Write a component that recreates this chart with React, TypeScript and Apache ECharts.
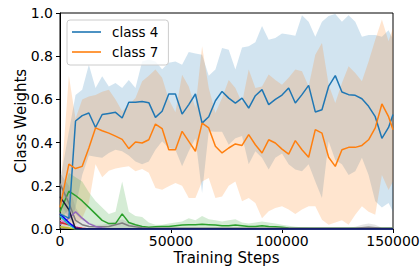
import React, { useEffect, useRef } from "react";
import * as echarts from "echarts";

// Training steps (x values)
const steps = [0, 4000, 7000, 10000, 13000, 16000, 19000, 22000, 25000, 28000, 31000, 34000, 37000, 40000, 43000, 46000, 49000, 52000, 55000, 58000, 61000, 64000, 67000, 70000, 73000, 76000, 79000, 82000, 85000, 88000, 91000, 94000, 97000, 100000, 103000, 106000, 109000, 112000, 115000, 118000, 121000, 124000, 127000, 130000, 133000, 136000, 139000, 142000, 145000, 148000, 150000];

const class4Mean = [0.07, 0.05, 0.50, 0.525, 0.537, 0.47, 0.53, 0.535, 0.54, 0.514,
  0.587, 0.587, 0.59, 0.585, 0.517, 0.545, 0.625, 0.625, 0.532, 0.576,
  0.625, 0.49, 0.52, 0.594, 0.637, 0.606, 0.583, 0.606, 0.56, 0.617,
  0.645, 0.576, 0.60, 0.62, 0.653, 0.583, 0.622, 0.665, 0.542, 0.552,
  0.66, 0.71, 0.634, 0.622, 0.619, 0.603, 0.568, 0.52, 0.42, 0.47, 0.53];
const class4Upper = [0.22, 0.45, 0.62, 0.645, 0.76, 0.653, 0.707, 0.66, 0.676, 0.653,
  0.69, 0.653, 0.775, 0.785, 0.775, 0.74, 0.77, 0.776, 0.76, 0.82,
  0.812, 0.807, 0.71, 0.738, 0.838, 0.83, 0.738, 0.84, 0.846, 0.865,
  0.94, 0.876, 0.884, 0.905, 0.90, 0.895, 0.99, 0.96, 0.89, 0.96,
  0.986, 0.995, 0.96, 0.99, 0.96, 0.89, 0.898, 0.898, 0.89, 0.92, 0.88];
const class4Lower = [0.0, 0.0, 0.10, 0.25, 0.34, 0.335, 0.33, 0.352, 0.367, 0.36,
  0.34, 0.313, 0.30, 0.313, 0.367, 0.406, 0.375, 0.367, 0.29, 0.36,
  0.42, 0.167, 0.452, 0.45, 0.45, 0.39, 0.42, 0.43, 0.30, 0.36,
  0.33, 0.275, 0.33, 0.35, 0.30, 0.275, 0.267, 0.30, 0.22, 0.144,
  0.406, 0.32, 0.30, 0.25, 0.267, 0.33, 0.25, 0.128, 0.10, 0.12, 0.08];

const class7Mean = [0.10, 0.30, 0.28, 0.29, 0.375, 0.468, 0.455, 0.444, 0.43, 0.415,
  0.372, 0.403, 0.398, 0.413, 0.486, 0.465, 0.367, 0.367, 0.452, 0.406,
  0.36, 0.49, 0.468, 0.383, 0.352, 0.375, 0.394, 0.387, 0.437, 0.39,
  0.352, 0.413, 0.398, 0.37, 0.347, 0.409, 0.367, 0.332, 0.46, 0.444,
  0.332, 0.29, 0.367, 0.378, 0.378, 0.387, 0.413, 0.468, 0.579, 0.52, 0.46];
const class7Upper = [0.15, 0.71, 0.51, 0.60, 0.614, 0.62, 0.635, 0.645, 0.60, 0.545,
  0.575, 0.606, 0.684, 0.71, 0.738, 0.70, 0.60, 0.54, 0.714, 0.66,
  0.56, 0.846, 0.653, 0.537, 0.606, 0.69, 0.653, 0.583, 0.738, 0.653,
  0.66, 0.715, 0.69, 0.668, 0.70, 0.738, 0.73, 0.66, 0.807, 0.861,
  0.668, 0.583, 0.676, 0.753, 0.722, 0.684, 0.776, 0.876, 0.97, 0.869, 0.93];
const class7Lower = [0.0, 0.0, 0.02, 0.05, 0.12, 0.30, 0.24, 0.27, 0.28, 0.286,
  0.29, 0.267, 0.278, 0.26, 0.19, 0.182, 0.198, 0.213, 0.20, 0.144,
  0.144, 0.22, 0.236, 0.144, 0.15, 0.20, 0.22, 0.128, 0.144, 0.12,
  0.05, 0.082, 0.097, 0.105, 0.09, 0.07, 0.09, 0.105, 0.105, 0.043,
  0.02, 0.03, 0.04, 0.02, 0.066, 0.105, 0.08, 0.066, 0.25, 0.18, 0.22];

const class2Mean = [0.08, 0.175, 0.155, 0.13, 0.10, 0.07, 0.04, 0.025, 0.025, 0.07,
  0.03, 0.02, 0.012, 0.008, 0.01, 0.012, 0.012, 0.015, 0.018, 0.02,
  0.02, 0.022, 0.02, 0.018, 0.015, 0.015, 0.018, 0.015, 0.012, 0.012,
  0.015, 0.012, 0.01, 0.008, 0.005, 0.004, 0.003, 0.003, 0.003, 0.003,
  0.003, 0.003, 0.003, 0.003, 0.003, 0.003, 0.003, 0.003, 0.003, 0.003, 0.003];
const class2Upper = [0.12, 0.26, 0.24, 0.22, 0.17, 0.13, 0.10, 0.07, 0.08, 0.22,
  0.08, 0.06, 0.055, 0.03, 0.02, 0.02, 0.025, 0.03, 0.035, 0.05,
  0.04, 0.06, 0.045, 0.04, 0.035, 0.04, 0.045, 0.03, 0.025, 0.03,
  0.035, 0.03, 0.025, 0.02, 0.015, 0.01, 0.008, 0.006, 0.005, 0.005,
  0.005, 0.005, 0.005, 0.005, 0.005, 0.005, 0.005, 0.005, 0.005, 0.005, 0.005];
const class2Lower = [0.04, 0.09, 0.07, 0.04, 0.03, 0.01, 0, 0, 0, 0,
  0, 0, 0, 0, 0, 0, 0, 0, 0, 0,
  0, 0, 0, 0, 0, 0, 0, 0, 0, 0,
  0, 0, 0, 0, 0, 0, 0, 0, 0, 0,
  0, 0, 0, 0, 0, 0, 0, 0, 0, 0, 0];
const class8Mean = [0.21, 0.12, 0.04, 0.02, 0.012, 0.01, 0.01, 0.012, 0.02, 0.028,
  0.015, 0.01, 0.006, 0.004, 0.003, 0.003, 0.003, 0.003, 0.003, 0.003,
  0.003, 0.003, 0.003, 0.003, 0.003, 0.003, 0.003, 0.003, 0.003, 0.003,
  0.003, 0.003, 0.003, 0.003, 0.003, 0.003, 0.003, 0.003, 0.003, 0.003,
  0.003, 0.003, 0.003, 0.003, 0.003, 0.006, 0.008, 0.006, 0.003, 0.003, 0.003];
const class8Upper = [0.26, 0.20, 0.10, 0.05, 0.03, 0.02, 0.02, 0.025, 0.035, 0.045,
  0.03, 0.02, 0.012, 0.008, 0.006, 0.006, 0.006, 0.006, 0.006, 0.006,
  0.006, 0.006, 0.006, 0.006, 0.006, 0.006, 0.006, 0.006, 0.006, 0.006,
  0.006, 0.006, 0.006, 0.006, 0.006, 0.006, 0.006, 0.006, 0.006, 0.006,
  0.006, 0.006, 0.006, 0.006, 0.01, 0.02, 0.025, 0.02, 0.006, 0.006, 0.006];
const class8Lower = [0.12, 0.05, 0, 0, 0, 0, 0, 0, 0, 0,
  0, 0, 0, 0, 0, 0, 0, 0, 0, 0,
  0, 0, 0, 0, 0, 0, 0, 0, 0, 0,
  0, 0, 0, 0, 0, 0, 0, 0, 0, 0,
  0, 0, 0, 0, 0, 0, 0, 0, 0, 0, 0];
const class5Mean = [0.02, 0.05, 0.08, 0.05, 0.025, 0.012, 0.005, 0, 0, 0,
  0, 0, 0, 0, 0, 0, 0, 0, 0, 0,
  0, 0, 0, 0, 0, 0, 0, 0, 0, 0,
  0, 0, 0, 0, 0, 0, 0, 0, 0, 0,
  0, 0, 0, 0, 0, 0, 0, 0, 0, 0, 0];
const class0Mean = [0.07, 0.03, 0.005, 0, 0, 0, 0, 0, 0, 0,
  0, 0, 0, 0, 0, 0, 0, 0, 0, 0,
  0, 0, 0, 0, 0, 0, 0, 0, 0, 0,
  0, 0, 0, 0, 0, 0, 0, 0, 0, 0,
  0, 0, 0, 0, 0, 0, 0, 0, 0, 0, 0];
const class1Mean = [0.06, 0.02, 0, 0, 0, 0, 0, 0, 0, 0,
  0, 0, 0, 0, 0, 0, 0, 0, 0, 0,
  0, 0, 0, 0, 0, 0, 0, 0, 0, 0,
  0, 0, 0, 0, 0, 0, 0, 0, 0, 0,
  0, 0, 0, 0, 0, 0, 0, 0, 0, 0, 0];
const class3Mean = [0.04, 0.025, 0.01, 0, 0, 0, 0, 0, 0, 0,
  0, 0, 0, 0, 0, 0, 0, 0, 0, 0,
  0, 0, 0, 0, 0, 0, 0, 0, 0, 0,
  0, 0, 0, 0, 0, 0, 0, 0, 0, 0,
  0, 0, 0, 0, 0, 0, 0, 0, 0, 0, 0];
const class6Mean = [0.03, 0.02, 0.008, 0.003, 0, 0, 0, 0, 0, 0,
  0, 0, 0, 0, 0, 0, 0, 0, 0, 0,
  0, 0, 0, 0, 0, 0, 0, 0, 0, 0,
  0, 0, 0, 0, 0, 0, 0, 0, 0, 0,
  0, 0, 0, 0, 0, 0, 0, 0, 0, 0, 0];
const class9Mean = [0.01, 0.005, 0, 0, 0, 0, 0, 0, 0, 0,
  0, 0, 0, 0, 0, 0, 0, 0, 0, 0,
  0, 0, 0, 0, 0, 0, 0, 0, 0, 0,
  0, 0, 0, 0, 0, 0, 0, 0, 0, 0,
  0, 0, 0, 0, 0, 0, 0, 0, 0, 0, 0];
const class10Mean = [0.15, 0.09, 0, 0, 0, 0, 0, 0, 0, 0,
  0, 0, 0, 0, 0, 0, 0, 0, 0, 0,
  0, 0, 0, 0, 0, 0, 0, 0, 0, 0,
  0, 0, 0, 0, 0, 0, 0, 0, 0, 0,
  0, 0, 0, 0, 0, 0, 0, 0, 0, 0, 0];

const yTicks = [0, 0.2, 0.4, 0.6, 0.8, 1.0];
const xTicks = [0, 50000, 100000, 150000];

const FONT = "DejaVu Sans";

function bandSeries(name: string, upper: number[], lower: number[], fill: string) {
  return {
    type: "custom",
    name,
    coordinateSystem: "cartesian2d",
    silent: true,
    data: [[steps[0], lower[0]]],
    encode: { x: 0, y: 1 },
    renderItem: (params: any, api: any) => {
      const top = upper.map((u, i) => api.coord([steps[i], u]));
      const bot = lower.map((l, i) => api.coord([steps[i], l])).reverse();
      return {
        type: "polygon",
        shape: { points: top.concat(bot) },
        style: { fill, stroke: "none" },
      };
    },
  };
}

function lineSeries(name: string, values: number[], color: string, z = 3) {
  return {
    type: "line",
    name,
    data: values.map((v, i) => [steps[i], v]),
    symbol: "none",
    showSymbol: false,
    z,
    lineStyle: { color, width: 1.5 },
    itemStyle: { color },
  };
}

export default function App() {
  const ref = useRef<HTMLDivElement>(null);
  useEffect(() => {
    document.body.style.margin = "0";
    if (!ref.current) return;
    const chart = echarts.init(ref.current, undefined, { renderer: "svg" });
    const option = {
      animation: false,
      textStyle: { fontFamily: FONT },
      grid: {
        left: 60, top: 13, width: 333, height: 216,
        outerBoundsMode: "none", containLabel: false,
        show: true, borderColor: "#000", borderWidth: 1, backgroundColor: "transparent",
      },
      xAxis: {
        type: "value", min: xTicks[0], max: xTicks[xTicks.length - 1], interval: xTicks[1] - xTicks[0],
        name: "Training Steps", nameLocation: "middle", nameGap: 21, nameMoveOverlap: false,
        nameTextStyle: { fontSize: 15, color: "#000", fontFamily: FONT },
        axisLine: { show: true, lineStyle: { color: "#000", width: 1 } },
        axisTick: { show: true, length: 4, inside: false, lineStyle: { color: "#000" } },
        axisLabel: { fontSize: 14, color: "#000", margin: 5, fontFamily: FONT, formatter: (v: number) => String(v) },
        splitLine: { show: false },
      },
      yAxis: {
        type: "value", min: yTicks[0], max: yTicks[yTicks.length - 1], interval: 0.2,
        name: "Class Weights", nameLocation: "middle", nameGap: 32, nameMoveOverlap: false,
        nameTextStyle: { fontSize: 15, color: "#000", fontFamily: FONT },
        axisLine: { show: true, lineStyle: { color: "#000", width: 1 } },
        axisTick: { show: true, length: 4, inside: false, lineStyle: { color: "#000" } },
        axisLabel: { fontSize: 14, color: "#000", margin: 7, fontFamily: FONT, formatter: (v: number) => v.toFixed(1) },
        splitLine: { show: false },
      },
      legend: {
        data: [
          { name: "class 4", icon: "rect" },
          { name: "class 7", icon: "rect" },
        ],
        orient: "vertical", left: 67, top: 20,
        padding: [4, 10, 5, 5], itemGap: 4,
        itemWidth: 29, itemHeight: 1.6,
        backgroundColor: "rgba(255,255,255,0.8)", borderColor: "#cccccc", borderWidth: 1, borderRadius: 3,
        textStyle: { fontSize: 13.5, color: "#000", fontFamily: FONT, lineHeight: 16, padding: [0, 0, 0, 6] },
        selectedMode: false,
      },
      series: [
        bandSeries("class 4 band", class4Upper, class4Lower, "rgba(31,119,180,0.2)"),
        bandSeries("class 7 band", class7Upper, class7Lower, "rgba(255,127,14,0.2)"),
        bandSeries("class 2 band", class2Upper, class2Lower, "rgba(44,160,44,0.2)"),
        bandSeries("class 8 band", class8Upper, class8Lower, "rgba(127,127,127,0.2)"),
        lineSeries("class 4", class4Mean, "#1f77b4", 4),
        lineSeries("class 7", class7Mean, "#ff7f0e", 4),
        lineSeries("class 2", class2Mean, "#2ca02c"),
        lineSeries("class 8", class8Mean, "#7f7f7f"),
        lineSeries("class 5", class5Mean, "#9467bd"),
        lineSeries("class 3", class3Mean, "#e377c2"),
        lineSeries("class 6", class6Mean, "#d62728"),
        lineSeries("class 9", class9Mean, "#bcbd22"),
        lineSeries("class 1", class1Mean, "#17becf"),
        lineSeries("class 0", class0Mean, "#0000ff"),
        lineSeries("class 10", class10Mean, "#1a1a3a"),
      ],
    };
    chart.setOption(option as any);
    return () => chart.dispose();
  }, []);
  return <div ref={ref} style={{ width: 420, height: 268 }} />;
}
